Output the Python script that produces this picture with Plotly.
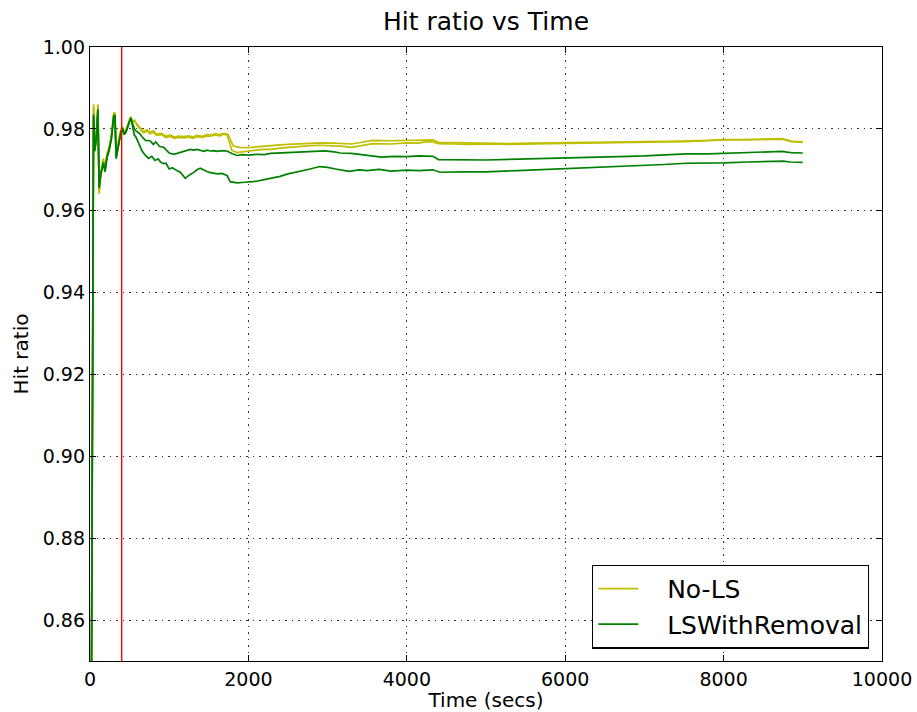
import plotly.graph_objects as go

# ---------------- data ----------------
early_t = [10, 45, 60, 80, 100, 115, 135, 168, 190, 215, 240, 270, 300, 315,
           330, 350, 370, 390, 410, 430, 455, 475, 495, 515, 540, 560]
early_y1 = [0.800, 0.9860, 0.9750, 0.9790, 0.9860, 0.9641, 0.9680, 0.9723, 0.9700,
            0.9735, 0.9750, 0.9780, 0.9835, 0.9840, 0.9740, 0.9760, 0.9782, 0.9795,
            0.9806, 0.9790, 0.9795, 0.9810, 0.9818, 0.9830, 0.9815, 0.9822]
early_y2 = [0.800, 0.9855, 0.9760, 0.9785, 0.9857, 0.9648, 0.9690, 0.9728, 0.9705,
            0.9740, 0.9755, 0.9785, 0.9838, 0.9836, 0.9745, 0.9765, 0.9786, 0.9798,
            0.9804, 0.9793, 0.9798, 0.9812, 0.9820, 0.9828, 0.9818, 0.9820]
early_g1 = [0.800, 0.9830, 0.9745, 0.9775, 0.9845, 0.9660, 0.9690, 0.9715, 0.9695,
            0.9730, 0.9745, 0.9775, 0.9830, 0.9832, 0.9727, 0.9750, 0.9775, 0.9790,
            0.9800, 0.9786, 0.9792, 0.9806, 0.9815, 0.9826, 0.9810, 0.9800]
early_g2 = [0.800, 0.9835, 0.9748, 0.9778, 0.9848, 0.9655, 0.9688, 0.9718, 0.9698,
            0.9732, 0.9748, 0.9778, 0.9832, 0.9834, 0.9730, 0.9752, 0.9778, 0.9792,
            0.9802, 0.9788, 0.9794, 0.9808, 0.9816, 0.9827, 0.9805, 0.9785]

nols_a_t = [590, 630, 680, 720, 758, 800, 840, 900, 960, 1014, 1060, 1120, 1182,
            1250, 1300, 1350, 1420, 1480, 1520, 1580, 1640, 1686, 1730, 1760, 1790,
            1855, 1920, 2000, 2100, 2190, 2280, 2400, 2500, 2650, 2780, 2900, 3070,
            3200, 3300, 3450, 3570, 3800, 4000, 4150, 4245, 4330, 4400, 4600, 4800,
            5050, 5300, 5600, 5930, 6200, 6500, 6800, 7000, 7250, 7500, 7800, 8000,
            8250, 8500, 8740, 8800, 8850, 8920, 9000]
nols_a_y = [0.9810, 0.9800, 0.9790, 0.9795, 0.9788, 0.9792, 0.9784, 0.9786, 0.9779,
            0.9782, 0.9777, 0.9779, 0.9778, 0.9780, 0.9777, 0.9781, 0.9779, 0.9783,
            0.9782, 0.9785, 0.9783, 0.9787, 0.9785, 0.9768, 0.9748, 0.9742, 0.9744,
            0.9745, 0.9748, 0.9750, 0.9750, 0.9753, 0.9755, 0.9757, 0.9759, 0.9760,
            0.9759, 0.9757, 0.9755, 0.9760, 0.9764, 0.9763, 0.9766, 0.9765, 0.9769,
            0.9768, 0.9764, 0.9763, 0.9762, 0.9763, 0.9762, 0.9763, 0.9764, 0.9764,
            0.9765, 0.9766, 0.9767, 0.9767, 0.9769, 0.9771, 0.9773, 0.9773, 0.9774,
            0.9775, 0.9772, 0.9769, 0.9768, 0.9767]

nols_b_t = [590, 630, 680, 720, 758, 800, 840, 900, 960, 1014, 1060, 1120, 1182,
            1250, 1300, 1350, 1420, 1480, 1520, 1580, 1640, 1686, 1740, 1780, 1810,
            1890, 2000, 2100, 2190, 2280, 2400, 2500, 2650, 2780, 2900, 3070, 3200,
            3300, 3450, 3570, 3800, 4000, 4150, 4245, 4330, 4400, 4600, 4800, 5050,
            5300, 5600, 5930, 6200, 6500, 6800, 7000, 7250, 7500, 7800, 8000, 8250,
            8500, 8740, 8800, 8850, 8920, 9000]
nols_b_y = [0.9812, 0.9803, 0.9793, 0.9798, 0.9791, 0.9795, 0.9787, 0.9789, 0.9782,
            0.9785, 0.9780, 0.9782, 0.9781, 0.9783, 0.9780, 0.9784, 0.9782, 0.9786,
            0.9785, 0.9788, 0.9786, 0.9789, 0.9787, 0.9772, 0.9758, 0.9755, 0.9754,
            0.9756, 0.9758, 0.9759, 0.9761, 0.9762, 0.9764, 0.9765, 0.9766, 0.9765,
            0.9764, 0.9763, 0.9768, 0.9772, 0.9771, 0.9772, 0.9773, 0.9774, 0.9773,
            0.9767, 0.9766, 0.9765, 0.9765, 0.9764, 0.9765, 0.9766, 0.9766, 0.9766,
            0.9767, 0.9768, 0.9769, 0.9770, 0.9772, 0.9774, 0.9774, 0.9775, 0.9776,
            0.9773, 0.9770, 0.9769, 0.9768]

lswr_a_t = [580, 620, 660, 700, 758, 800, 830, 880, 930, 970, 1000, 1060, 1098,
            1140, 1200, 1266, 1308, 1350, 1400, 1435, 1477, 1520, 1560, 1600, 1665,
            1730, 1790, 1855, 1920, 2000, 2100, 2200, 2280, 2400, 2500, 2650, 2800,
            2970, 3080, 3160, 3300, 3400, 3550, 3680, 3850, 4000, 4150, 4245, 4330,
            4400, 4700, 5000, 5400, 5930, 6200, 6500, 6800, 7000, 7250, 7530, 7800,
            8000, 8200, 8400, 8600, 8740, 8800, 8850, 9000]
lswr_a_y = [0.9795, 0.9790, 0.9780, 0.9772, 0.9771, 0.9762, 0.9768, 0.9757, 0.9755,
            0.9748, 0.9741, 0.9738, 0.9740, 0.9742, 0.9746, 0.9750, 0.9748, 0.9750,
            0.9747, 0.9745, 0.9748, 0.9746, 0.9747, 0.9745, 0.9747, 0.9746, 0.9740,
            0.9735, 0.9737, 0.9736, 0.9738, 0.9737, 0.9740, 0.9741, 0.9741, 0.9743,
            0.9744, 0.9746, 0.9744, 0.9741, 0.9740, 0.9738, 0.9735, 0.9731, 0.9733,
            0.9732, 0.9734, 0.9733, 0.9733, 0.9725, 0.9724, 0.9724, 0.9726, 0.9728,
            0.9729, 0.9731, 0.9733, 0.9734, 0.9736, 0.9739, 0.9739, 0.9740, 0.9741,
            0.9742, 0.9743, 0.9745, 0.9743, 0.9742, 0.9741]

lswr_b_t = [580, 620, 660, 700, 740, 780, 820, 860, 890, 930, 960, 1000, 1040,
            1098, 1140, 1203, 1260, 1308, 1350, 1392, 1430, 1477, 1520, 1560, 1610,
            1665, 1730, 1770, 1855, 1920, 2000, 2100, 2200, 2280, 2400, 2500, 2600,
            2700, 2780, 2900, 3000, 3100, 3270, 3400, 3500, 3650, 3800, 4000, 4150,
            4330, 4420, 4700, 5000, 5400, 5930, 6200, 6500, 6800, 7000, 7250, 7530,
            7800, 8000, 8300, 8530, 8750, 8850, 9000]
lswr_b_y = [0.9780, 0.9760, 0.9745, 0.9735, 0.9728, 0.9733, 0.9723, 0.9727, 0.9719,
            0.9715, 0.9716, 0.9702, 0.9705, 0.9698, 0.9694, 0.9679, 0.9688, 0.9693,
            0.9700, 0.9704, 0.9700, 0.9696, 0.9693, 0.9692, 0.9690, 0.9691, 0.9686,
            0.9671, 0.9668, 0.9669, 0.9670, 0.9672, 0.9676, 0.9679, 0.9684, 0.9690,
            0.9694, 0.9698, 0.9702, 0.9708, 0.9706, 0.9702, 0.9696, 0.9700, 0.9698,
            0.9701, 0.9697, 0.9699, 0.9698, 0.9700, 0.9694, 0.9695, 0.9695, 0.9698,
            0.9702, 0.9704, 0.9706, 0.9708, 0.9710, 0.9713, 0.9716, 0.9716, 0.9717,
            0.9719, 0.9720, 0.9721, 0.9719, 0.9718]

marker_time = 400

series = [
    ("No-LS", early_t + nols_a_t, early_y1 + nols_a_y, "#bfbf00", True),
    ("No-LS", early_t + nols_b_t, early_y2 + nols_b_y, "#bfbf00", False),
    ("LSWithRemoval", early_t + lswr_a_t, early_g1 + lswr_a_y, "#008000", True),
    ("LSWithRemoval", early_t + lswr_b_t, early_g2 + lswr_b_y, "#008000", False),
]

FONT = "DejaVu Sans"
PAD = "\u00a0\u00a0\u00a0"
fig = go.Figure()
for name, t, y, col, show in series:
    fig.add_trace(go.Scatter(x=t, y=y, mode="lines", name=PAD + name,
                             showlegend=show, legendgroup=name,
                             line=dict(color=col, width=1.7)))

fig.add_shape(type="line", xref="x", yref="paper", x0=marker_time, x1=marker_time,
              y0=0, y1=1, line=dict(color="#ff0000", width=1.4))

axis_common = dict(
    showline=True, linecolor="black", linewidth=1.3, mirror="allticks",
    ticks="inside", ticklen=6, tickwidth=1, tickcolor="black",
    showgrid=True, gridcolor="#333333", griddash="1.5px,5px", gridwidth=1,
    zeroline=False, automargin=False,
    tickfont=dict(family=FONT, size=19, color="black"),
)

fig.update_layout(
    width=917, height=712,
    margin=dict(l=90, r=35, t=47, b=51),
    paper_bgcolor="white", plot_bgcolor="white",
    font=dict(family=FONT, color="black"),
    title=dict(text="Hit ratio vs Time", x=0.5, xref="paper", y=1 - 21 / 712,
               yref="container", yanchor="middle", xanchor="center",
               font=dict(family=FONT, size=25, color="black")),
    xaxis=dict(range=[0, 10000], dtick=2000, tick0=0, tickformat="d",
               ticklabelstandoff=1,
               title=dict(text="Time (secs)", standoff=6,
                          font=dict(family=FONT, size=20, color="black")),
               **axis_common),
    yaxis=dict(range=[0.85, 1.0], dtick=0.02, tick0=0.86, tickformat=".2f",
               title=dict(text="Hit ratio", standoff=8,
                          font=dict(family=FONT, size=20, color="black")),
               **axis_common),
    legend=dict(x=0.9836, y=0.0203, xanchor="right", yanchor="bottom",
                bordercolor="black", borderwidth=1.3, bgcolor="white",
                font=dict(family=FONT, size=25, color="black"),
                tracegroupgap=0, itemwidth=40),
)

fig.write_html("out.html")
